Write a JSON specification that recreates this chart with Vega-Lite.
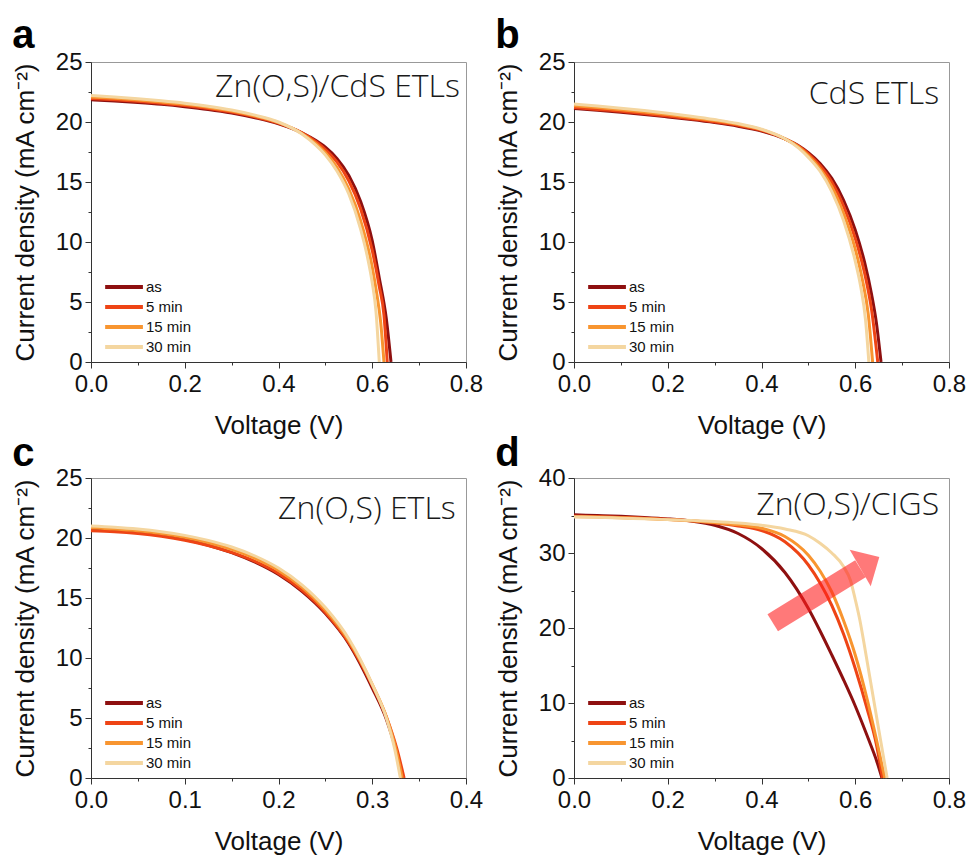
{
  "$schema": "https://vega.github.io/schema/vega-lite/v6.json",
  "background": "white",
  "padding": {"left": 11, "top": 15, "right": 5, "bottom": 5},
  "config": {
    "font": "Liberation Sans",
    "view": {"stroke": "#999999", "strokeWidth": 1},
    "axis": {"grid": false, "labelFont": "Liberation Sans", "titleFont": "Liberation Sans", "labelFontSize": 24, "titleFontSize": 26, "titleFontWeight": "normal", "labelColor": "#111111", "titleColor": "#111111", "domainColor": "#333333", "tickColor": "#333333", "labelPadding": 3, "titlePadding": 17, "labelFlush": false, "labelOverlap": false},
    "axisX": {"labelPadding": 4, "titlePadding": 16},
    "legend": {"orient": "bottom-left", "symbolType": "M-0.5,0H3.4", "symbolStrokeWidth": 4, "symbolSize": 375, "labelFontSize": 15, "labelFont": "Liberation Sans", "labelColor": "#111111", "labelOffset": 24, "padding": 0, "offset": 7, "rowPadding": 0},
    "title": {"anchor": "start", "frame": "bounds", "fontSize": 40, "fontWeight": "bold", "font": "Liberation Sans", "color": "#000000"}
  },
  "datasets": {
    "curves": [
      {"p":"a","s":"as","V":0,"J":21.85},{"p":"a","s":"as","V":0.05,"J":21.75},{"p":"a","s":"as","V":0.1,"J":21.62},{"p":"a","s":"as","V":0.15,"J":21.47},{"p":"a","s":"as","V":0.2,"J":21.28},{"p":"a","s":"as","V":0.25,"J":21.05},{"p":"a","s":"as","V":0.3,"J":20.75},{"p":"a","s":"as","V":0.35,"J":20.35},{"p":"a","s":"as","V":0.4,"J":19.85},{"p":"a","s":"as","V":0.45,"J":19.1},{"p":"a","s":"as","V":0.48,"J":18.45},{"p":"a","s":"as","V":0.5,"J":17.9},{"p":"a","s":"as","V":0.525,"J":16.95},{"p":"a","s":"as","V":0.55,"J":15.55},{"p":"a","s":"as","V":0.575,"J":13.4},{"p":"a","s":"as","V":0.6,"J":10.1},{"p":"a","s":"as","V":0.615,"J":7.0},{"p":"a","s":"as","V":0.63,"J":3.6},{"p":"a","s":"as","V":0.64,"J":0},
      {"p":"a","s":"5 min","V":0,"J":21.95},{"p":"a","s":"5 min","V":0.05,"J":21.85},{"p":"a","s":"5 min","V":0.1,"J":21.72},{"p":"a","s":"5 min","V":0.15,"J":21.56},{"p":"a","s":"5 min","V":0.2,"J":21.37},{"p":"a","s":"5 min","V":0.25,"J":21.13},{"p":"a","s":"5 min","V":0.3,"J":20.83},{"p":"a","s":"5 min","V":0.35,"J":20.43},{"p":"a","s":"5 min","V":0.4,"J":19.9},{"p":"a","s":"5 min","V":0.45,"J":19.1},{"p":"a","s":"5 min","V":0.48,"J":18.35},{"p":"a","s":"5 min","V":0.5,"J":17.7},{"p":"a","s":"5 min","V":0.525,"J":16.65},{"p":"a","s":"5 min","V":0.55,"J":15.1},{"p":"a","s":"5 min","V":0.575,"J":12.8},{"p":"a","s":"5 min","V":0.6,"J":9.3},{"p":"a","s":"5 min","V":0.615,"J":6.3},{"p":"a","s":"5 min","V":0.625,"J":3.9},{"p":"a","s":"5 min","V":0.632,"J":0},
      {"p":"a","s":"15 min","V":0,"J":22.08},{"p":"a","s":"15 min","V":0.05,"J":21.97},{"p":"a","s":"15 min","V":0.1,"J":21.83},{"p":"a","s":"15 min","V":0.15,"J":21.66},{"p":"a","s":"15 min","V":0.2,"J":21.47},{"p":"a","s":"15 min","V":0.25,"J":21.22},{"p":"a","s":"15 min","V":0.3,"J":20.92},{"p":"a","s":"15 min","V":0.35,"J":20.5},{"p":"a","s":"15 min","V":0.4,"J":19.95},{"p":"a","s":"15 min","V":0.45,"J":19.05},{"p":"a","s":"15 min","V":0.48,"J":18.2},{"p":"a","s":"15 min","V":0.5,"J":17.45},{"p":"a","s":"15 min","V":0.525,"J":16.2},{"p":"a","s":"15 min","V":0.55,"J":14.4},{"p":"a","s":"15 min","V":0.575,"J":11.8},{"p":"a","s":"15 min","V":0.6,"J":7.9},{"p":"a","s":"15 min","V":0.61,"J":5.6},{"p":"a","s":"15 min","V":0.618,"J":3.3},{"p":"a","s":"15 min","V":0.625,"J":0},
      {"p":"a","s":"30 min","V":0,"J":22.2},{"p":"a","s":"30 min","V":0.05,"J":22.08},{"p":"a","s":"30 min","V":0.1,"J":21.94},{"p":"a","s":"30 min","V":0.15,"J":21.77},{"p":"a","s":"30 min","V":0.2,"J":21.57},{"p":"a","s":"30 min","V":0.25,"J":21.32},{"p":"a","s":"30 min","V":0.3,"J":21.0},{"p":"a","s":"30 min","V":0.35,"J":20.57},{"p":"a","s":"30 min","V":0.4,"J":20.0},{"p":"a","s":"30 min","V":0.45,"J":19.0},{"p":"a","s":"30 min","V":0.48,"J":18.05},{"p":"a","s":"30 min","V":0.5,"J":17.25},{"p":"a","s":"30 min","V":0.525,"J":15.9},{"p":"a","s":"30 min","V":0.55,"J":14.0},{"p":"a","s":"30 min","V":0.575,"J":11.1},{"p":"a","s":"30 min","V":0.59,"J":8.7},{"p":"a","s":"30 min","V":0.6,"J":6.6},{"p":"a","s":"30 min","V":0.608,"J":4.2},{"p":"a","s":"30 min","V":0.615,"J":0},

      {"p":"b","s":"as","V":0,"J":21.12},{"p":"b","s":"as","V":0.05,"J":20.98},{"p":"b","s":"as","V":0.1,"J":20.82},{"p":"b","s":"as","V":0.15,"J":20.63},{"p":"b","s":"as","V":0.2,"J":20.42},{"p":"b","s":"as","V":0.25,"J":20.2},{"p":"b","s":"as","V":0.3,"J":19.95},{"p":"b","s":"as","V":0.35,"J":19.65},{"p":"b","s":"as","V":0.4,"J":19.25},{"p":"b","s":"as","V":0.45,"J":18.6},{"p":"b","s":"as","V":0.48,"J":18.0},{"p":"b","s":"as","V":0.5,"J":17.45},{"p":"b","s":"as","V":0.525,"J":16.55},{"p":"b","s":"as","V":0.55,"J":15.3},{"p":"b","s":"as","V":0.575,"J":13.5},{"p":"b","s":"as","V":0.6,"J":11.0},{"p":"b","s":"as","V":0.62,"J":8.3},{"p":"b","s":"as","V":0.635,"J":5.6},{"p":"b","s":"as","V":0.645,"J":3.3},{"p":"b","s":"as","V":0.655,"J":0},
      {"p":"b","s":"5 min","V":0,"J":21.2},{"p":"b","s":"5 min","V":0.05,"J":21.05},{"p":"b","s":"5 min","V":0.1,"J":20.9},{"p":"b","s":"5 min","V":0.15,"J":20.7},{"p":"b","s":"5 min","V":0.2,"J":20.5},{"p":"b","s":"5 min","V":0.25,"J":20.27},{"p":"b","s":"5 min","V":0.3,"J":20.02},{"p":"b","s":"5 min","V":0.35,"J":19.72},{"p":"b","s":"5 min","V":0.4,"J":19.3},{"p":"b","s":"5 min","V":0.45,"J":18.6},{"p":"b","s":"5 min","V":0.48,"J":17.95},{"p":"b","s":"5 min","V":0.5,"J":17.35},{"p":"b","s":"5 min","V":0.525,"J":16.35},{"p":"b","s":"5 min","V":0.55,"J":15.0},{"p":"b","s":"5 min","V":0.575,"J":13.0},{"p":"b","s":"5 min","V":0.6,"J":10.3},{"p":"b","s":"5 min","V":0.62,"J":7.4},{"p":"b","s":"5 min","V":0.635,"J":4.3},{"p":"b","s":"5 min","V":0.648,"J":0},
      {"p":"b","s":"15 min","V":0,"J":21.35},{"p":"b","s":"15 min","V":0.05,"J":21.2},{"p":"b","s":"15 min","V":0.1,"J":21.03},{"p":"b","s":"15 min","V":0.15,"J":20.83},{"p":"b","s":"15 min","V":0.2,"J":20.62},{"p":"b","s":"15 min","V":0.25,"J":20.38},{"p":"b","s":"15 min","V":0.3,"J":20.12},{"p":"b","s":"15 min","V":0.35,"J":19.8},{"p":"b","s":"15 min","V":0.4,"J":19.37},{"p":"b","s":"15 min","V":0.45,"J":18.6},{"p":"b","s":"15 min","V":0.48,"J":17.9},{"p":"b","s":"15 min","V":0.5,"J":17.2},{"p":"b","s":"15 min","V":0.525,"J":16.1},{"p":"b","s":"15 min","V":0.55,"J":14.6},{"p":"b","s":"15 min","V":0.575,"J":12.4},{"p":"b","s":"15 min","V":0.6,"J":9.4},{"p":"b","s":"15 min","V":0.615,"J":6.9},{"p":"b","s":"15 min","V":0.628,"J":3.9},{"p":"b","s":"15 min","V":0.637,"J":0},
      {"p":"b","s":"30 min","V":0,"J":21.5},{"p":"b","s":"30 min","V":0.05,"J":21.33},{"p":"b","s":"30 min","V":0.1,"J":21.15},{"p":"b","s":"30 min","V":0.15,"J":20.95},{"p":"b","s":"30 min","V":0.2,"J":20.73},{"p":"b","s":"30 min","V":0.25,"J":20.48},{"p":"b","s":"30 min","V":0.3,"J":20.2},{"p":"b","s":"30 min","V":0.35,"J":19.87},{"p":"b","s":"30 min","V":0.4,"J":19.4},{"p":"b","s":"30 min","V":0.45,"J":18.6},{"p":"b","s":"30 min","V":0.48,"J":17.8},{"p":"b","s":"30 min","V":0.5,"J":17.05},{"p":"b","s":"30 min","V":0.525,"J":15.9},{"p":"b","s":"30 min","V":0.55,"J":14.2},{"p":"b","s":"30 min","V":0.575,"J":11.8},{"p":"b","s":"30 min","V":0.6,"J":8.4},{"p":"b","s":"30 min","V":0.612,"J":6.2},{"p":"b","s":"30 min","V":0.622,"J":3.5},{"p":"b","s":"30 min","V":0.629,"J":0},

      {"p":"c","s":"as","V":0,"J":20.75},{"p":"c","s":"as","V":0.025,"J":20.65},{"p":"c","s":"as","V":0.05,"J":20.48},{"p":"c","s":"as","V":0.075,"J":20.22},{"p":"c","s":"as","V":0.1,"J":19.87},{"p":"c","s":"as","V":0.125,"J":19.4},{"p":"c","s":"as","V":0.15,"J":18.78},{"p":"c","s":"as","V":0.175,"J":17.98},{"p":"c","s":"as","V":0.2,"J":16.95},{"p":"c","s":"as","V":0.225,"J":15.55},{"p":"c","s":"as","V":0.25,"J":13.7},{"p":"c","s":"as","V":0.275,"J":11.2},{"p":"c","s":"as","V":0.3,"J":7.5},{"p":"c","s":"as","V":0.315,"J":4.9},{"p":"c","s":"as","V":0.325,"J":2.4},{"p":"c","s":"as","V":0.332,"J":0},
      {"p":"c","s":"5 min","V":0,"J":20.6},{"p":"c","s":"5 min","V":0.025,"J":20.52},{"p":"c","s":"5 min","V":0.05,"J":20.37},{"p":"c","s":"5 min","V":0.075,"J":20.14},{"p":"c","s":"5 min","V":0.1,"J":19.82},{"p":"c","s":"5 min","V":0.125,"J":19.38},{"p":"c","s":"5 min","V":0.15,"J":18.8},{"p":"c","s":"5 min","V":0.175,"J":18.05},{"p":"c","s":"5 min","V":0.2,"J":17.05},{"p":"c","s":"5 min","V":0.225,"J":15.65},{"p":"c","s":"5 min","V":0.25,"J":13.8},{"p":"c","s":"5 min","V":0.275,"J":11.3},{"p":"c","s":"5 min","V":0.3,"J":7.7},{"p":"c","s":"5 min","V":0.315,"J":5.1},{"p":"c","s":"5 min","V":0.326,"J":2.5},{"p":"c","s":"5 min","V":0.334,"J":0},
      {"p":"c","s":"15 min","V":0,"J":20.85},{"p":"c","s":"15 min","V":0.025,"J":20.75},{"p":"c","s":"15 min","V":0.05,"J":20.6},{"p":"c","s":"15 min","V":0.075,"J":20.37},{"p":"c","s":"15 min","V":0.1,"J":20.05},{"p":"c","s":"15 min","V":0.125,"J":19.62},{"p":"c","s":"15 min","V":0.15,"J":19.05},{"p":"c","s":"15 min","V":0.175,"J":18.3},{"p":"c","s":"15 min","V":0.2,"J":17.3},{"p":"c","s":"15 min","V":0.225,"J":15.9},{"p":"c","s":"15 min","V":0.25,"J":14.0},{"p":"c","s":"15 min","V":0.275,"J":11.45},{"p":"c","s":"15 min","V":0.3,"J":7.8},{"p":"c","s":"15 min","V":0.315,"J":5.1},{"p":"c","s":"15 min","V":0.325,"J":2.5},{"p":"c","s":"15 min","V":0.332,"J":0},
      {"p":"c","s":"30 min","V":0,"J":21.0},{"p":"c","s":"30 min","V":0.025,"J":20.9},{"p":"c","s":"30 min","V":0.05,"J":20.75},{"p":"c","s":"30 min","V":0.075,"J":20.53},{"p":"c","s":"30 min","V":0.1,"J":20.22},{"p":"c","s":"30 min","V":0.125,"J":19.8},{"p":"c","s":"30 min","V":0.15,"J":19.25},{"p":"c","s":"30 min","V":0.175,"J":18.5},{"p":"c","s":"30 min","V":0.2,"J":17.5},{"p":"c","s":"30 min","V":0.225,"J":16.1},{"p":"c","s":"30 min","V":0.25,"J":14.2},{"p":"c","s":"30 min","V":0.275,"J":11.6},{"p":"c","s":"30 min","V":0.3,"J":7.8},{"p":"c","s":"30 min","V":0.315,"J":5.0},{"p":"c","s":"30 min","V":0.324,"J":2.4},{"p":"c","s":"30 min","V":0.33,"J":0},

      {"p":"d","s":"as","V":0,"J":35.1},{"p":"d","s":"as","V":0.05,"J":35.0},{"p":"d","s":"as","V":0.1,"J":34.9},{"p":"d","s":"as","V":0.15,"J":34.75},{"p":"d","s":"as","V":0.2,"J":34.55},{"p":"d","s":"as","V":0.25,"J":34.25},{"p":"d","s":"as","V":0.3,"J":33.7},{"p":"d","s":"as","V":0.35,"J":32.6},{"p":"d","s":"as","V":0.4,"J":30.6},{"p":"d","s":"as","V":0.45,"J":27.4},{"p":"d","s":"as","V":0.5,"J":22.6},{"p":"d","s":"as","V":0.525,"J":19.6},{"p":"d","s":"as","V":0.55,"J":16.4},{"p":"d","s":"as","V":0.575,"J":13.1},{"p":"d","s":"as","V":0.6,"J":9.6},{"p":"d","s":"as","V":0.615,"J":7.3},{"p":"d","s":"as","V":0.63,"J":4.9},{"p":"d","s":"as","V":0.645,"J":2.4},{"p":"d","s":"as","V":0.657,"J":0},
      {"p":"d","s":"5 min","V":0,"J":34.9},{"p":"d","s":"5 min","V":0.05,"J":34.85},{"p":"d","s":"5 min","V":0.1,"J":34.75},{"p":"d","s":"5 min","V":0.15,"J":34.65},{"p":"d","s":"5 min","V":0.2,"J":34.5},{"p":"d","s":"5 min","V":0.25,"J":34.3},{"p":"d","s":"5 min","V":0.3,"J":34.0},{"p":"d","s":"5 min","V":0.35,"J":33.6},{"p":"d","s":"5 min","V":0.4,"J":33.0},{"p":"d","s":"5 min","V":0.45,"J":31.5},{"p":"d","s":"5 min","V":0.5,"J":28.4},{"p":"d","s":"5 min","V":0.525,"J":26.0},{"p":"d","s":"5 min","V":0.55,"J":23.0},{"p":"d","s":"5 min","V":0.575,"J":19.2},{"p":"d","s":"5 min","V":0.6,"J":14.6},{"p":"d","s":"5 min","V":0.625,"J":9.3},{"p":"d","s":"5 min","V":0.645,"J":4.5},{"p":"d","s":"5 min","V":0.658,"J":0},
      {"p":"d","s":"15 min","V":0,"J":34.85},{"p":"d","s":"15 min","V":0.05,"J":34.8},{"p":"d","s":"15 min","V":0.1,"J":34.7},{"p":"d","s":"15 min","V":0.15,"J":34.6},{"p":"d","s":"15 min","V":0.2,"J":34.45},{"p":"d","s":"15 min","V":0.25,"J":34.3},{"p":"d","s":"15 min","V":0.3,"J":34.05},{"p":"d","s":"15 min","V":0.35,"J":33.75},{"p":"d","s":"15 min","V":0.4,"J":33.3},{"p":"d","s":"15 min","V":0.45,"J":32.2},{"p":"d","s":"15 min","V":0.5,"J":29.7},{"p":"d","s":"15 min","V":0.525,"J":27.6},{"p":"d","s":"15 min","V":0.55,"J":24.8},{"p":"d","s":"15 min","V":0.575,"J":21.0},{"p":"d","s":"15 min","V":0.6,"J":16.4},{"p":"d","s":"15 min","V":0.625,"J":10.6},{"p":"d","s":"15 min","V":0.645,"J":5.2},{"p":"d","s":"15 min","V":0.663,"J":0},
      {"p":"d","s":"30 min","V":0,"J":34.8},{"p":"d","s":"30 min","V":0.05,"J":34.75},{"p":"d","s":"30 min","V":0.1,"J":34.65},{"p":"d","s":"30 min","V":0.15,"J":34.55},{"p":"d","s":"30 min","V":0.2,"J":34.45},{"p":"d","s":"30 min","V":0.25,"J":34.35},{"p":"d","s":"30 min","V":0.3,"J":34.2},{"p":"d","s":"30 min","V":0.35,"J":34.0},{"p":"d","s":"30 min","V":0.4,"J":33.7},{"p":"d","s":"30 min","V":0.45,"J":33.2},{"p":"d","s":"30 min","V":0.5,"J":32.3},{"p":"d","s":"30 min","V":0.525,"J":31.3},{"p":"d","s":"30 min","V":0.55,"J":30.0},{"p":"d","s":"30 min","V":0.575,"J":28.2},{"p":"d","s":"30 min","V":0.59,"J":26.3},{"p":"d","s":"30 min","V":0.6,"J":23.8},{"p":"d","s":"30 min","V":0.61,"J":21.0},{"p":"d","s":"30 min","V":0.62,"J":17.5},{"p":"d","s":"30 min","V":0.635,"J":12.0},{"p":"d","s":"30 min","V":0.65,"J":6.5},{"p":"d","s":"30 min","V":0.668,"J":0}
    ],
    "labels": [
      {"p":"a","label":"Zn(O,S)/CdS ETLs","V":0.787,"J":22.1},
      {"p":"b","label":"CdS ETLs","V":0.779,"J":21.5},
      {"p":"c","label":"Zn(O,S) ETLs","V":0.389,"J":21.6},
      {"p":"d","label":"Zn(O,S)/CIGS","V":0.779,"J":35.1}
    ],
    "arrow": [
      {"V":0.424,"J":20.7,"V2":0.611,"J2":27.9}
    ],
    "arrowhead": [
      {"V":0.63,"J":28.7}
    ]
  },
  "resolve": {"scale": {"color": "independent"}, "legend": {"color": "independent"}},
  "columns": 2,
  "spacing": {"row": -6, "column": 10},
  "concat": [
    {
      "title": {"text": "a", "offset": -6},
      "width": 375, "height": 300,
      "encoding": {
        "x": {"field": "V", "type": "quantitative", "scale": {"domain": [0, 0.8], "nice": false}, "axis": {"title": "Voltage (V)", "values": [0,0.1,0.2,0.3,0.4,0.5,0.6,0.7,0.8], "labelExpr": "round(datum.value*10) % 2 === 0 ? format(datum.value, '.1f') : ''", "tickSize": {"condition": {"test": "round(datum.value*10) % 2 === 0", "value": 6}, "value": 3}}},
        "y": {"field": "J", "type": "quantitative", "scale": {"domain": [0, 25], "nice": false}, "axis": {"title": "Current density (mA cm⁻²)", "values": [0,2.5,5,7.5,10,12.5,15,17.5,20,22.5,25], "labelExpr": "datum.value % 5 === 0 ? format(datum.value, 'd') : ''", "tickSize": {"condition": {"test": "datum.value % 5 === 0", "value": 6}, "value": 3}}}
      },
      "layer": [
        {"data": {"name": "curves"}, "transform": [{"filter": "datum.p === 'a'"}], "mark": {"type": "line", "strokeWidth": 3, "interpolate": "monotone"}, "encoding": {"color": {"field": "s", "type": "nominal", "scale": {"domain": ["as","5 min","15 min","30 min"], "range": ["#8E1010","#EE4415","#F89530","#F4D6A0"]}, "legend": {"title": null}}}},
        {"data": {"name": "labels"}, "transform": [{"filter": "datum.p === 'a'"}], "mark": {"type": "text", "align": "right", "baseline": "alphabetic", "font": "Open Sans", "fontWeight": 300, "fontSize": 32, "color": "#1a1a1a"}, "encoding": {"text": {"field": "label"}}}
      ]
    },
    {
      "title": {"text": "b", "offset": -6},
      "width": 375, "height": 300,
      "encoding": {
        "x": {"field": "V", "type": "quantitative", "scale": {"domain": [0, 0.8], "nice": false}, "axis": {"title": "Voltage (V)", "values": [0,0.1,0.2,0.3,0.4,0.5,0.6,0.7,0.8], "labelExpr": "round(datum.value*10) % 2 === 0 ? format(datum.value, '.1f') : ''", "tickSize": {"condition": {"test": "round(datum.value*10) % 2 === 0", "value": 6}, "value": 3}}},
        "y": {"field": "J", "type": "quantitative", "scale": {"domain": [0, 25], "nice": false}, "axis": {"title": "Current density (mA cm⁻²)", "values": [0,2.5,5,7.5,10,12.5,15,17.5,20,22.5,25], "labelExpr": "datum.value % 5 === 0 ? format(datum.value, 'd') : ''", "tickSize": {"condition": {"test": "datum.value % 5 === 0", "value": 6}, "value": 3}}}
      },
      "layer": [
        {"data": {"name": "curves"}, "transform": [{"filter": "datum.p === 'b'"}], "mark": {"type": "line", "strokeWidth": 3, "interpolate": "monotone"}, "encoding": {"color": {"field": "s", "type": "nominal", "scale": {"domain": ["as","5 min","15 min","30 min"], "range": ["#8E1010","#EE4415","#F89530","#F4D6A0"]}, "legend": {"title": null}}}},
        {"data": {"name": "labels"}, "transform": [{"filter": "datum.p === 'b'"}], "mark": {"type": "text", "align": "right", "baseline": "alphabetic", "font": "Open Sans", "fontWeight": 300, "fontSize": 32, "color": "#1a1a1a"}, "encoding": {"text": {"field": "label"}}}
      ]
    },
    {
      "title": {"text": "c", "offset": -8},
      "width": 375, "height": 300,
      "encoding": {
        "x": {"field": "V", "type": "quantitative", "scale": {"domain": [0, 0.4], "nice": false}, "axis": {"title": "Voltage (V)", "values": [0,0.05,0.1,0.15,0.2,0.25,0.3,0.35,0.4], "labelExpr": "round(datum.value*20) % 2 === 0 ? format(datum.value, '.1f') : ''", "tickSize": {"condition": {"test": "round(datum.value*20) % 2 === 0", "value": 6}, "value": 3}}},
        "y": {"field": "J", "type": "quantitative", "scale": {"domain": [0, 25], "nice": false}, "axis": {"title": "Current density (mA cm⁻²)", "values": [0,2.5,5,7.5,10,12.5,15,17.5,20,22.5,25], "labelExpr": "datum.value % 5 === 0 ? format(datum.value, 'd') : ''", "tickSize": {"condition": {"test": "datum.value % 5 === 0", "value": 6}, "value": 3}}}
      },
      "layer": [
        {"data": {"name": "curves"}, "transform": [{"filter": "datum.p === 'c'"}], "mark": {"type": "line", "strokeWidth": 3, "interpolate": "monotone"}, "encoding": {"color": {"field": "s", "type": "nominal", "scale": {"domain": ["as","5 min","15 min","30 min"], "range": ["#8E1010","#EE4415","#F89530","#F4D6A0"]}, "legend": {"title": null}}}},
        {"data": {"name": "labels"}, "transform": [{"filter": "datum.p === 'c'"}], "mark": {"type": "text", "align": "right", "baseline": "alphabetic", "font": "Open Sans", "fontWeight": 300, "fontSize": 32, "color": "#1a1a1a"}, "encoding": {"text": {"field": "label"}}}
      ]
    },
    {
      "title": {"text": "d", "offset": -8},
      "width": 375, "height": 300,
      "encoding": {
        "x": {"field": "V", "type": "quantitative", "scale": {"domain": [0, 0.8], "nice": false}, "axis": {"title": "Voltage (V)", "values": [0,0.1,0.2,0.3,0.4,0.5,0.6,0.7,0.8], "labelExpr": "round(datum.value*10) % 2 === 0 ? format(datum.value, '.1f') : ''", "tickSize": {"condition": {"test": "round(datum.value*10) % 2 === 0", "value": 6}, "value": 3}}},
        "y": {"field": "J", "type": "quantitative", "scale": {"domain": [0, 40], "nice": false}, "axis": {"title": "Current density (mA cm⁻²)", "values": [0,5,10,15,20,25,30,35,40], "labelExpr": "datum.value % 10 === 0 ? format(datum.value, 'd') : ''", "tickSize": {"condition": {"test": "datum.value % 10 === 0", "value": 6}, "value": 3}}}
      },
      "layer": [
        {"data": {"name": "curves"}, "transform": [{"filter": "datum.p === 'd'"}], "mark": {"type": "line", "strokeWidth": 3, "interpolate": "monotone"}, "encoding": {"color": {"field": "s", "type": "nominal", "scale": {"domain": ["as","5 min","15 min","30 min"], "range": ["#8E1010","#EE4415","#F89530","#F4D6A0"]}, "legend": {"title": null}}}},
        {"data": {"name": "arrow"}, "mark": {"type": "rule", "strokeWidth": 20, "color": "#ff2020", "opacity": 0.6, "strokeCap": "butt"}, "encoding": {"x2": {"field": "V2"}, "y2": {"field": "J2"}}},
        {"data": {"name": "arrowhead"}, "mark": {"type": "point", "shape": "M-0.5,-1L0.55,0L-0.5,1Z", "size": 1764, "angle": 330, "filled": true, "color": "#ff2020", "opacity": 0.6, "strokeWidth": 0}, "encoding": {}},
        {"data": {"name": "labels"}, "transform": [{"filter": "datum.p === 'd'"}], "mark": {"type": "text", "align": "right", "baseline": "alphabetic", "font": "Open Sans", "fontWeight": 300, "fontSize": 32, "color": "#1a1a1a"}, "encoding": {"text": {"field": "label"}}}
      ]
    }
  ]
}
